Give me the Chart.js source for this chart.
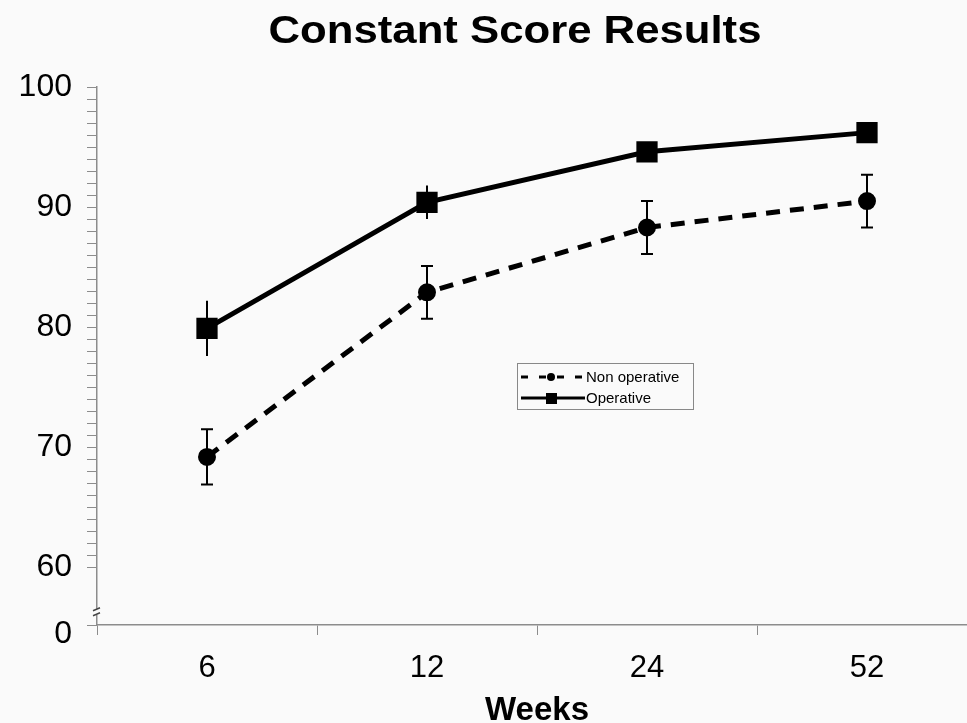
<!DOCTYPE html>
<html>
<head>
<meta charset="utf-8">
<script src="https://cdn.jsdelivr.net/npm/chart.js@4.4.0/dist/chart.umd.min.js"></script>
<style>
  html, body { margin: 0; padding: 0; overflow: hidden; background: #fafafa; }
  #wrap { width: 967px; height: 723px; overflow: hidden; position: relative; }
  #grafik { position: absolute; left: 0; top: 0; width: 980px; height: 723px; }
</style>
</head>
<body>
<div id="wrap"><canvas id="grafik" width="980" height="723"></canvas></div>
<script>
// data
const weeks = ['6', '12', '24', '52'];
const nonOperative = [69.2, 82.9, 88.3, 90.5];
const nonOperativeErr = [2.3, 2.2, 2.2, 2.2];
const operative = [79.9, 90.4, 94.6, 96.2];
const operativeErr = [2.3, 1.4, 0.8, 0.5];

// broken y axis: bottom of the axis is labelled "0"
const yBottom = 55.2;
const yTop = 100;
const yMajor = [60, 70, 80, 90, 100];

const axisGrey = '#8c8c8c';
const font = "'Liberation Sans', Arial, sans-serif";

// error bars drawn under the lines
const errorBars = {
  id: 'errorBars',
  beforeDatasetsDraw(chart) {
    const ctx = chart.ctx;
    const y = chart.scales.y;
    chart.data.datasets.forEach((ds, i) => {
      const meta = chart.getDatasetMeta(i);
      ctx.save();
      ctx.strokeStyle = '#000';
      ctx.lineWidth = 2;
      meta.data.forEach((pt, j) => {
        const e = ds.errors[j];
        const top = y.getPixelForValue(ds.data[j] + e);
        const bot = y.getPixelForValue(ds.data[j] - e);
        ctx.beginPath();
        ctx.moveTo(pt.x, top);
        ctx.lineTo(pt.x, bot);
        if (ds.errorCap) {
          const c = ds.errorCap / 2;
          ctx.moveTo(pt.x - c, top); ctx.lineTo(pt.x + c, top);
          ctx.moveTo(pt.x - c, bot); ctx.lineTo(pt.x + c, bot);
        }
        ctx.stroke();
      });
      ctx.restore();
    });
  }
};

// title, axis break and the boxed legend inside the plot
const extras = {
  id: 'extras',
  afterDraw(chart) {
    const ctx = chart.ctx;
    const area = chart.chartArea;
    ctx.save();

    // title (a bit wider than plain Arial bold in the original)
    ctx.fillStyle = '#000';
    ctx.font = 'bold 38px ' + font;
    ctx.textAlign = 'center';
    ctx.textBaseline = 'middle';
    ctx.save();
    ctx.translate(515, 33);
    ctx.scale(1.15, 1);
    ctx.fillText('Constant Score Results', 0, 0);
    ctx.restore();

    // "0" at the foot of the broken axis sits a little under the axis line
    ctx.font = '32px ' + font;
    ctx.textAlign = 'right';
    ctx.fillText('0', area.left - 25, chart.scales.y.getPixelForValue(yBottom) + 9);

    // axis break marks
    const yb = chart.scales.y.getPixelForValue(yBottom + 1.1);
    ctx.fillStyle = '#fafafa';
    ctx.fillRect(area.left - 3, yb - 3, 6, 6);
    ctx.strokeStyle = '#444';
    ctx.lineWidth = 1.5;
    ctx.beginPath();
    ctx.moveTo(area.left - 4, yb - 1); ctx.lineTo(area.left + 3, yb - 4);
    ctx.moveTo(area.left - 4, yb + 4); ctx.lineTo(area.left + 3, yb + 1);
    ctx.stroke();

    // legend
    const lx = 517, ly = 363, lw = 176, lh = 46;
    ctx.strokeStyle = '#888';
    ctx.lineWidth = 1;
    ctx.strokeRect(lx + 0.5, ly + 0.5, lw, lh);
    ctx.font = '15px ' + font;
    ctx.textAlign = 'left';
    ctx.fillStyle = '#000';
    chart.data.datasets.forEach((ds, i) => {
      const ry = ly + 14 + i * 21;
      ctx.strokeStyle = '#000';
      ctx.lineWidth = 3;
      ctx.setLineDash(ds.borderDash ? [7, 11] : []);
      ctx.beginPath();
      ctx.moveTo(lx + 4, ry);
      ctx.lineTo(lx + 68, ry);
      ctx.stroke();
      ctx.setLineDash([]);
      if (ds.pointStyle === 'rect') {
        ctx.fillRect(lx + 29, ry - 5, 11, 11);
      } else {
        ctx.beginPath();
        ctx.arc(lx + 34, ry, 4, 0, Math.PI * 2);
        ctx.fill();
      }
      ctx.fillText(ds.label, lx + 69, ry + 1);
    });
    ctx.restore();
  }
};

const ctx = document.getElementById('grafik').getContext('2d');
new Chart(ctx, {
  type: 'line',
  data: {
    labels: weeks,
    datasets: [{
      label: 'Non operative',
      data: nonOperative,
      errors: nonOperativeErr,
      errorCap: 12,
      borderColor: '#000',
      backgroundColor: '#000',
      borderWidth: 5,
      borderDash: [14, 10],
      pointStyle: 'circle',
      pointRadius: 6.5,
      tension: 0
    }, {
      label: 'Operative',
      data: operative,
      errors: operativeErr,
      errorCap: 0,
      borderColor: '#000',
      backgroundColor: '#000',
      borderWidth: 5,
      pointStyle: 'rect',
      pointRadius: 11.5,
      tension: 0
    }]
  },
  options: {
    responsive: false,
    animation: false,
    layout: { autoPadding: false, padding: { top: 87, right: 3, left: 0, bottom: 0 } },
    plugins: {
      legend: { display: false },
      title: { display: false },
      tooltip: { enabled: false }
    },
    scales: {
      x: {
        offset: true,
        grid: { offset: true, drawOnChartArea: false, tickLength: 10, color: axisGrey },
        border: { color: axisGrey, width: 1.5 },
        ticks: { color: '#000', padding: 15, font: { family: font, size: 31 } },
        title: {
          display: true, text: 'Weeks', color: '#000',
          padding: { top: 0, bottom: -4 },
          font: { family: font, size: 33, weight: 'bold', lineHeight: 1 }
        },
        afterFit(s) { s.height = 98; }
      },
      y: {
        min: yBottom,
        max: yTop,
        afterBuildTicks(s) {
          const t = [{ value: yBottom }];
          for (let v = yMajor[0]; v <= yTop; v++) t.push({ value: v });
          s.ticks = t;
        },
        grid: { drawOnChartArea: false, tickLength: 10, color: axisGrey },
        border: { color: axisGrey, width: 1.5 },
        ticks: {
          autoSkip: false,
          padding: 15,
          color: '#000',
          font: { family: font, size: 32 },
          callback(v) {
            return yMajor.includes(v) ? String(v) : '';
          }
        },
        afterFit(s) { s.width = 97; }
      }
    }
  },
  plugins: [errorBars, extras]
});
</script>
</body>
</html>
